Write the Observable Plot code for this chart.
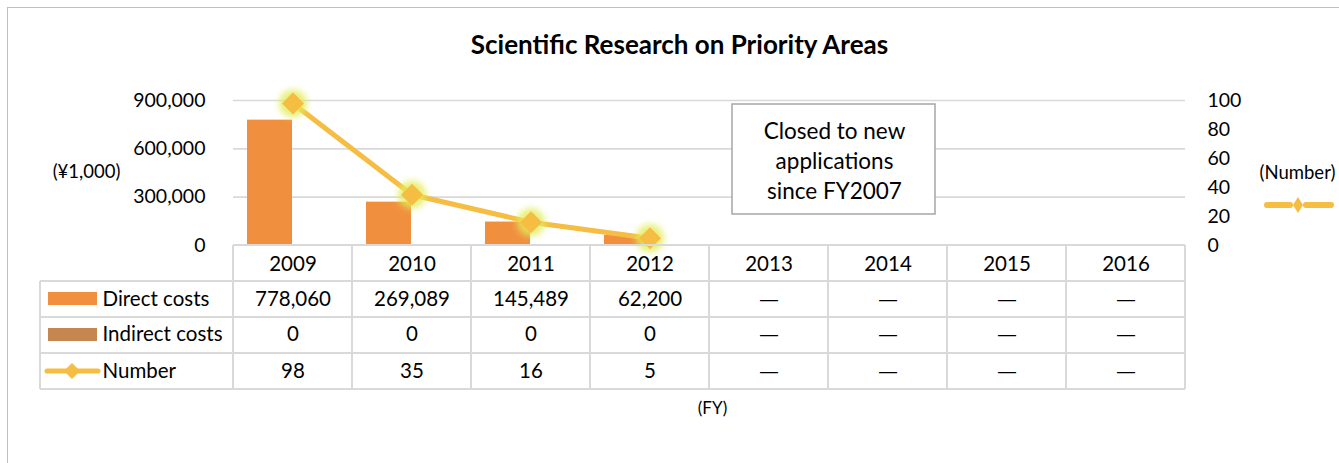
<!DOCTYPE html>
<html><head><meta charset="utf-8">
<script src="https://cdn.jsdelivr.net/npm/d3@7"></script>
<script src="https://cdn.jsdelivr.net/npm/@observablehq/plot@0.6"></script>
<style>
body{margin:0;background:#fff;}
#wrap{position:relative;width:1339px;height:463px;overflow:hidden;}
#border{position:absolute;left:7px;top:7px;width:1400px;height:500px;border:1.5px solid #c0c0c0;box-sizing:border-box;pointer-events:none}
</style></head><body><div id="wrap"><div id="border"></div></div>
<script>
const years = ["2009","2010","2011","2012","2013","2014","2015","2016"];
const directCosts = [778060, 269089, 145489, 62200, null, null, null, null];
const indirectCosts = [0, 0, 0, 0, null, null, null, null];
const numbers = [98, 35, 16, 5, null, null, null, null];
const leftTicks = [0, 300000, 600000, 900000];
const rightTicks = [0, 20, 40, 60, 80, 100];
const seriesNames = ["Direct costs", "Indirect costs", "Number"];
const titleText = "Scientific Research on Priority Areas";
const noteText = "Closed to new\napplications\nsince FY2007";

const ratio = 900000 / 100;
const fmt = d3.format(",");
const rows = years.map((year, i) => ({year, direct: directCosts[i], indirect: indirectCosts[i], number: numbers[i]}));
const withVals = rows.filter(d => d.number != null);
const rowDy = [54, 89, 126];
const rowKeys = ["direct", "indirect", "number"];

const ORANGE = "#F0903F", BROWN = "#C5874F", GOLD = "#F5BD42", GRID = "#d9d9d9", GLOW = "#E2EC55";
const font = "Lato, 'Open Sans', sans-serif";
const TFS = 20.5;

const tableMarks = [];
rowKeys.forEach((k, r) => {
  tableMarks.push(Plot.text(rows.filter(d => d[k] != null), {x: "year", text: d => fmt(d[k]), frameAnchor: "bottom", lineAnchor: "middle", dy: rowDy[r], fontSize: TFS}));
  tableMarks.push(Plot.text(rows.filter(d => d[k] == null), {x: "year", text: () => "—", frameAnchor: "bottom", lineAnchor: "middle", dy: rowDy[r], fontSize: 20, fontFamily: "DejaVu Sans"}));
  tableMarks.push(Plot.text([seriesNames[r]], {frameAnchor: "bottom-left", textAnchor: "start", lineAnchor: "middle", dx: -131, dy: rowDy[r], fontSize: TFS}));
});

const chart = Plot.plot({
  width: 1339, height: 463,
  marginTop: 100, marginBottom: 218, marginLeft: 233, marginRight: 154,
  style: {fontFamily: font, fontSize: "19px", color: "#000", background: "transparent", overflow: "visible"},
  x: {domain: years, padding: 0, axis: null},
  y: {domain: [0, 900000], axis: null, label: null},
  marks: [
    Plot.gridY(leftTicks.filter(d => d > 0), {stroke: GRID, strokeOpacity: 1, strokeWidth: 1.6}),
    Plot.axisY(leftTicks, {anchor: "left", tickSize: 0, tickPadding: 28, tickFormat: fmt, label: null, fontSize: 19.5}),
    Plot.axisY(rightTicks.map(d => d * ratio), {anchor: "right", tickSize: 0, tickPadding: 22, tickFormat: d => d / ratio, label: null, fontSize: 19.5}),
    Plot.barY(rows.filter(d => d.direct != null), {x: "year", y: "direct", fill: ORANGE, insetLeft: 14, insetRight: 60}),
    Plot.barY(rows.filter(d => d.indirect != null), {x: "year", y: "indirect", fill: BROWN, insetLeft: 59, insetRight: 15}),
    Plot.line(withVals, {x: "year", y: d => d.number * ratio, stroke: GOLD, strokeWidth: 5}),
    Plot.dot(withVals, {x: "year", y: d => d.number * ratio, r: 14, fill: GLOW, fillOpacity: 0.8}),
    Plot.dot(withVals, {x: "year", y: d => d.number * ratio, symbol: "square", rotate: 45, r: 8.8, fill: GOLD}),
    // title
    Plot.text([titleText], {frameAnchor: "top", textAnchor: "middle", lineAnchor: "middle", dx: -30, dy: -55, fontSize: 26, fontWeight: "bold"}),
    // axis unit labels
    Plot.text(["(¥1,000)"], {frameAnchor: "top-left", textAnchor: "middle", lineAnchor: "middle", dx: -147, dy: 72, fontSize: 18.5}),
    Plot.text(["(Number)"], {frameAnchor: "top-right", textAnchor: "middle", lineAnchor: "middle", dx: 112, dy: 73, fontSize: 18.5}),
    // note
    Plot.text([noteText], {frameAnchor: "top-left", textAnchor: "middle", lineAnchor: "middle", dx: 601, dy: 59, lineHeight: 1.32, fontSize: 22.5}),
    // table header
    Plot.text(rows, {x: "year", text: "year", frameAnchor: "bottom", lineAnchor: "middle", dy: 19, fontSize: TFS}),
    ...tableMarks,
    Plot.text(["(FY)"], {frameAnchor: "bottom", lineAnchor: "middle", dx: 3, dy: 163, fontSize: 17})
  ]
});

document.getElementById("wrap").appendChild(chart);
const svg = d3.select(chart);

const xs = chart.scale("x");
const bw = xs.bandwidth;
const x0 = xs.apply(years[0]);
const xEnd = xs.apply(years[years.length - 1]) + bw;
const rowH = [245, 281, 317, 353, 389], leftX = 40;

// glow filter
const defs = svg.insert("defs", ":first-child");
defs.append("filter").attr("id", "glowf").attr("x", "-50%").attr("y", "-50%").attr("width", "200%").attr("height", "200%")
  .append("feGaussianBlur").attr("stdDeviation", 3.2);
svg.selectAll("g").filter(function() { return this.getAttribute("fill") === GLOW; }).attr("filter", "url(#glowf)");

// note box, behind the note text
let noteG = null;
svg.selectAll("text").each(function() { if (!noteG && this.textContent.indexOf("Closed") >= 0) noteG = this.closest("g") || this; });
const box = document.createElementNS("http://www.w3.org/2000/svg", "rect");
d3.select(box).attr("x", 732).attr("y", 104).attr("width", 203).attr("height", 110)
  .attr("fill", "#fff").attr("stroke", "#a6a6a6").attr("stroke-width", 1.5);
if (noteG && noteG.parentNode) noteG.parentNode.insertBefore(box, noteG); else chart.appendChild(box);

// table grid
const tg = svg.append("g").attr("stroke", GRID).attr("stroke-width", 2).attr("fill", "none");
tg.append("line").attr("x1", x0).attr("x2", xEnd).attr("y1", rowH[0]).attr("y2", rowH[0]);
for (let r = 1; r < rowH.length; r++) tg.append("line").attr("x1", leftX).attr("x2", xEnd).attr("y1", rowH[r]).attr("y2", rowH[r]);
years.forEach(y => tg.append("line").attr("x1", xs.apply(y)).attr("x2", xs.apply(y)).attr("y1", rowH[0]).attr("y2", rowH[4]));
tg.append("line").attr("x1", xEnd).attr("x2", xEnd).attr("y1", rowH[0]).attr("y2", rowH[4]);
tg.append("line").attr("x1", leftX).attr("x2", leftX).attr("y1", rowH[1]).attr("y2", rowH[4]);

// legend keys in table
const lg = svg.append("g");
lg.append("rect").attr("x", 48).attr("y", 292).attr("width", 49).attr("height", 13).attr("fill", ORANGE);
lg.append("rect").attr("x", 48).attr("y", 328).attr("width", 49).attr("height", 13).attr("fill", BROWN);
lg.append("line").attr("x1", 47).attr("x2", 98).attr("y1", 371).attr("y2", 371).attr("stroke", GOLD).attr("stroke-width", 5).attr("stroke-linecap", "round");
lg.append("path").attr("d", "M72,363 L80,371 L72,379 L64,371 Z").attr("fill", GOLD);
// key under (Number)
lg.append("line").attr("x1", 1267).attr("x2", 1290).attr("y1", 205).attr("y2", 205).attr("stroke", GOLD).attr("stroke-width", 6).attr("stroke-linecap", "round");
lg.append("line").attr("x1", 1306).attr("x2", 1331).attr("y1", 205).attr("y2", 205).attr("stroke", GOLD).attr("stroke-width", 6).attr("stroke-linecap", "round");
lg.append("path").attr("d", "M1298,197 L1303,205 L1298,213 L1293,205 Z").attr("fill", GOLD);
</script></body></html>
